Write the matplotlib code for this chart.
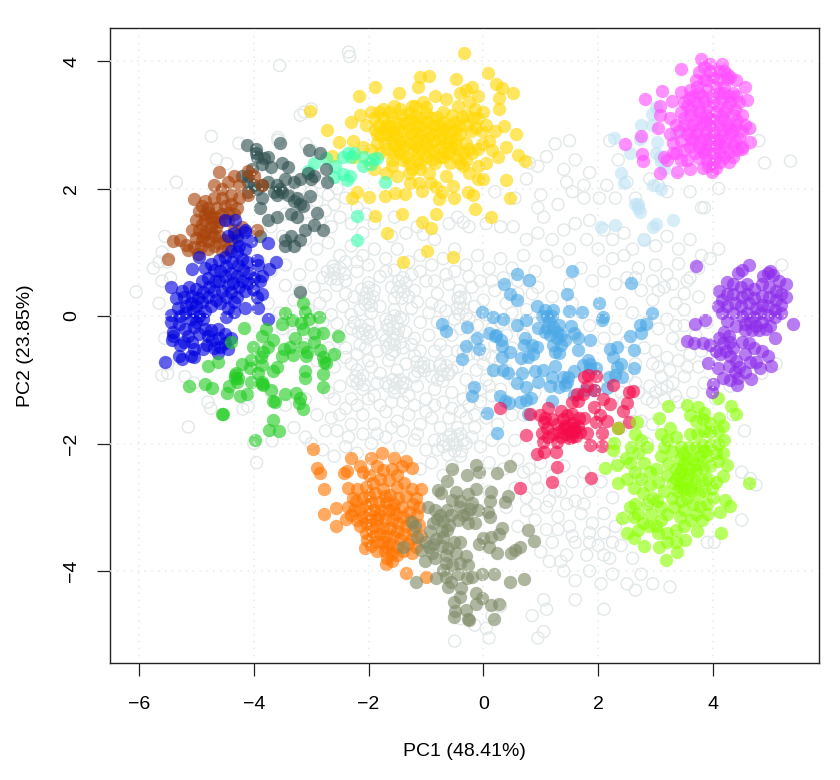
import matplotlib
matplotlib.use("Agg")
import matplotlib.pyplot as plt

plt.rcParams['font.family'] = ['Liberation Sans', 'DejaVu Sans']

grey_pts = [(-2.35,4.14),(-2.33,4.07),(-3.55,3.93),(-3.0,3.25),(-3.12,3.2),(-3.19,3.15),(-4.74,2.82),(-5.35,2.1),(-4.65,2.46),(-4.47,2.39),(-4.26,2.71),(-3.58,2.8),(-3.58,2.76),(-3.09,2.7),(-2.99,2.6),
(-6.05,.38),(-5.6,1.0),(-5.65,.85),(-5.5,.85),(-5.55,1.25),(-5.75,.75),(-5.65,.2),(-5.6,.55),(-5.45,.6),(-5.5,-.75),(-5.5,-.9),(-5.6,-.93),(-5.55,-.35),(-5.2,-.95),(-5.05,-1.05),(-5.14,-1.74),(-4.8,-1.35),(-4.75,-1.45),(-4.19,-1.46),(-4.1,-1.42),(-3.68,-1.96),(-3.95,-2.3),(-3.3,-1.75),(-3.1,-1.9),(-3.0,-2.0),(-2.8,-2.1),(-2.6,-2.2),(-2.4,-2.05),(-2.2,-2.15),
(-3.8,2.2),(-3.6,2.05),(-3.4,2.1),(-3.2,2.0),(-3.0,1.95),(-2.85,2.1),(-2.7,1.9),(-2.55,2.0),(-3.3,1.85),(-3.1,1.75),(-2.9,1.8),(-2.75,1.65),(-2.6,1.75),(-2.4,1.85),(-2.2,1.7),(-2.05,1.6),(-3.45,1.6),(-3.25,1.55),(-3.05,1.45),(-2.85,1.5),(-2.65,1.4),(-2.5,1.55),(-2.3,1.45),(-2.1,1.3),(-1.9,1.45),(-1.55,1.55),(-1.35,1.3),(-1.15,1.4),(-1.6,1.25),(-1.05,1.28),(-.85,1.2),(-.6,1.45),(-.45,1.55),(-.35,1.47),(-.25,1.4),(.05,1.45),(.3,1.4),(.52,1.4),
(-3.7,1.4),(-3.5,1.25),(-3.3,1.1),(-3.1,1.2),(-2.9,1.05),(-2.7,1.15),(-2.5,.95),(-2.3,1.1),(-2.1,.95),(-1.9,1.05),(-1.7,.9),(-1.5,1.05),(-1.3,.85),(-1.1,.95),(-.9,.8),(-.7,.9),(-.5,1.05),(-.3,.8),(-.1,.95),(.1,.75),(.3,.9),(.5,.75),(.7,.95),(.9,.7),
(-3.9,.85),(-3.7,.7),(-3.45,.8),(-3.2,.65),(-3.0,.8),(-2.8,.6),(-2.6,.72),(-2.4,.55),(-2.2,.7),(-2.0,.52),(-1.9,.4),(-1.8,.62),(-1.6,.45),(-1.4,.6),(-1.2,.4),(-1.0,.55),(-.8,.35),(-.6,.5),(-.4,.3),(-.2,.45),(0,.25),(.2,.4),(.4,.2),(.6,.35),
(-3.75,.2),(-3.55,.05),(-3.3,.25),(-3.05,.1),(-2.85,.2),(-2.65,.02),(-2.45,.15),(-2.25,.3),(-2.15,.1),(-2.0,.2),(-1.95,.05),(-1.8,.15),(-1.7,-.05),(-1.55,.1),(-1.4,-.05),(-1.25,.12),(-1.1,-.1),(-.95,.05),(-.8,-.1),(-.65,.08),(-.5,-.05),(-.4,-.2),(-.25,-.05),(-.1,-.15),(.05,.02),(.15,-.2),(-1.65,-.2),(-1.5,-.3),(-1.35,-.25),(-1.2,-.35),(-1.55,-.45),(-1.4,-.5),(-1.25,-.45),(-1.1,-.55),
(-3.3,-.3),(-3.1,-.45),(-2.9,-.3),(-2.7,-.5),(-2.5,-.35),(-2.3,-.2),(-2.15,-.45),(-1.95,-.3),(-1.85,-.55),(-.95,-.3),(-.75,-.45),(-.55,-.3),(-.35,-.55),(-.15,-.4),(.02,-.6),(.2,-.45),
(-2.6,-.8),(-2.4,-.65),(-2.2,-.85),(-2.0,-.7),(-1.8,-.9),(-1.65,-.7),(-1.5,-.85),(-1.35,-.75),(-1.2,-.95),(-1.05,-.8),(-.9,-.95),(-.75,-.75),(-.6,-.9),(-.45,-.8),(-.3,-1.0),(-.12,-.85),(.05,-1.0),(.22,-.85),
(-2.7,-1.2),(-2.5,-1.1),(-2.3,-1.3),(-2.1,-1.15),(-1.9,-1.25),(-1.7,-1.05),(-1.55,-1.2),(-1.4,-1.05),(-1.3,-1.25),(-1.15,-1.1),(-1.0,-1.3),(-.85,-1.15),(-.7,-1.35),(-.55,-1.2),(-.35,-1.3),(-.2,-1.15),(-.05,-1.35),(.15,-1.25),
(-2.5,-1.55),(-2.3,-1.7),(-2.1,-1.55),(-1.9,-1.7),(-1.7,-1.5),(-1.5,-1.65),(-1.3,-1.55),(-1.1,-1.7),(-.9,-1.6),(-.75,-1.75),(-.6,-1.6),(-.45,-1.75),(-.3,-1.6),(-.15,-1.75),(.05,-1.6),(.25,-1.7),(.5,-1.55),
(-1.95,-2.0),(-1.7,-1.9),(-1.45,-2.05),(-1.2,-1.95),(-1.0,-2.1),(-.85,-1.95),(-.7,-2.05),(-.6,-1.9),(-.5,-2.0),(-.4,-1.85),(-.3,-2.0),(-.2,-1.9),(-.05,-2.05),(.15,-1.95),(.35,-2.1),(.55,-1.95),
(-1.1,-2.4),(-.9,-2.3),(-.7,-2.5),(-.55,-2.35),(-.4,-2.2),(.1,-2.3),(.35,-2.4),(.6,-2.25),(.8,-2.4),(1.0,-2.3),(1.2,-2.5),(1.4,-2.35),(1.55,-2.6),(1.75,-2.45),(.55,-2.7),(.75,-2.85),(.95,-2.7),(1.15,-2.9),(1.35,-2.75),(1.6,-2.9),(1.85,-2.75),(2.05,-2.6),(2.25,-2.85),
(.9,-3.2),(1.1,-3.35),(1.3,-3.15),(1.5,-3.3),(1.7,-3.1),(1.9,-3.25),(2.1,-3.1),(2.3,-3.3),(2.5,-3.15),(1.0,-3.7),(1.2,-3.55),(1.45,-3.75),(1.6,-3.55),(1.8,-3.75),(2.0,-3.6),(2.2,-3.8),(2.4,-3.6),(2.6,-3.8),(1.4,-4.0),(1.6,-4.15),(1.85,-4.0),(2.05,-4.2),(2.25,-4.05),(2.5,-4.2),(2.75,-4.05),(2.95,-4.2),(3.25,-4.25),(4.5,-3.2),(3.9,-3.55),(4.02,-3.55),(2.65,-4.3),(2.1,-4.6),(1.6,-4.45),(1.05,-4.45),(1.1,-4.6),(.85,-4.7),(.3,-4.55),(.15,-4.7),(-.4,-4.75),(-.15,-4.85),(.05,-4.9),(.1,-5.05),(-.5,-5.1),(.95,-5.05),(1.05,-4.95),
(-4.0,-2.0),(-3.7,-1.2),(-3.45,-1.4),(-3.1,-1.3),(-2.9,-1.55),(-2.75,-1.8),(-.2,-3.0),(.1,-2.75),(.4,-3.0),(.75,-3.05),(.6,-3.3),(1.1,-3.0),(.9,-2.95),
(1.0,1.9),(.95,1.7),(.55,1.85),(.2,1.95),(1.05,1.55),(1.3,1.75),(1.55,1.95),(1.75,1.85),(1.45,2.1),(1.4,2.3),(1.6,2.45),(1.85,2.25),(1.75,2.05),(2.02,1.85),(2.15,2.05),(2.3,1.85),(.75,2.15),(.8,2.4),(.95,2.35),(1.1,2.5),(1.25,2.7),(1.5,2.75),(2.2,2.75),(2.35,2.45),(2.5,2.1),(2.65,1.85),(2.9,2.15),(3.05,2.05),(3.2,1.95),(3.4,2.3),(3.6,1.95),(3.8,1.7),(3.85,1.7),(4.0,2.3),(4.1,2.0),(4.65,2.95),(4.8,2.75),(4.9,2.4),
(2.1,1.35),(2.25,1.2),(2.45,1.3),(2.6,1.05),(2.8,1.2),(3.0,1.1),(3.2,1.25),(3.4,1.05),(3.6,1.2),(3.8,.95),(3.95,.9),(4.1,1.05),(1.8,1.2),(1.5,1.05),(1.3,.85),(1.1,.95),(3.0,.8),(3.2,.65),(3.4,.82),(3.55,.55),(3.75,.75),(2.5,.6),(2.7,.75),(2.3,.5),(2.1,.7),(1.9,.55),(1.7,.75),(1.5,.5),(2.75,.4),(2.95,.25),(3.15,.45),(3.35,.2),(3.5,.1),(3.75,.3),(1.2,.3),(1.55,.2),(2.4,.2),(2.6,.05),(2.85,-.1),(3.05,-.2),(3.3,-.35),(3.5,-.15),(3.7,-.3),(3.9,-.1),(3.8,-.55),(3.6,-.6),(3.4,-.7),(3.2,-.65),(3.0,-.55),(2.8,-.5),(2.65,-.75),(2.5,-.4),(2.3,-.2),(2.1,-.35),(1.85,-.15),(1.6,-.3),(3.5,-.95),(3.3,-1.05),(3.1,-.95),(2.9,-1.1),(2.7,-1.2),(2.95,-1.35),(3.15,-1.3),(3.4,-1.35),(3.65,-1.2),(3.85,-1.05),(4.05,-1.3),(4.3,-1.1),(.7,-.3),(.95,-.1),(.5,-.5),(.75,-.8),(.55,-1.0),(.9,-1.2),(.45,-1.35),(.7,-1.55),(2.15,-1.0),(2.4,-1.2),(2.55,-1.5),(2.75,-1.65),(2.4,-1.75),(2.15,-2.0),(2.35,-2.3),(2.6,-2.15),(2.85,-2.0),(2.7,-2.5),(2.9,-2.9),(4.65,-.9),(4.85,-.9),(5.1,-.75),(5.2,.8),(5.35,2.43),(4.35,-1.55),(4.55,-1.8),(4.5,-2.45),(4.65,-2.55),(4.75,-2.65)]

grey_dense_pts = [(-2.03,.36),(-2.08,.28),(-1.98,.27),(-2.12,.42),(-2.0,.45),(-1.92,.3),(-2.06,.18),(-1.95,.16),(-1.57,-.17),(-1.62,-.08),(-1.5,-.1),(-1.58,-.27),(-1.48,-.2),(-1.68,-.15),(-1.55,.0),(-1.45,-.02),(-1.63,-.43),(-1.7,-.38),(-1.57,-.38),(-1.68,-.5),(-1.55,-.55),(-1.45,-.42),(-1.75,-.3),(-1.6,-.6),(-2.06,-.22),(-2.14,-.15),(-2.0,-.14),(-2.1,-.28),(-1.98,-.25),(-2.18,-.25),(-2.03,-.35),(-2.15,-1.0),(-2.22,-.95),(-2.1,-.93),(-2.2,-1.06),(-2.08,-1.08),(-2.28,-1.02),(-1.51,-1.06),(-1.58,-1.0),(-1.45,-1.0),(-1.55,-1.13),(-1.42,-1.12),(-1.65,-1.1),(-1.35,-1.05),(-1.1,-.8),(-1.16,-.72),(-1.04,-.74),(-1.14,-.87),(-1.02,-.86),(-.95,-.78),(-1.2,-.62),(-.7,-.85),(-.76,-.78),(-.64,-.78),(-.74,-.93),(-.62,-.92),(-.55,-.85),(-.8,-1.0),(-.7,-1.02),(-1.45,.46),(-1.5,.38),(-1.38,.38),(-1.48,.55),(-1.35,.52),(-1.55,.28),(-1.42,.28),(-.41,.2),(-.46,.12),(-.35,.12),(-.44,.28),(-.32,.28),(-.42,.4),(-.3,.02),(-.42,.03),(-.53,-1.95),(-.6,-2.02),(-.46,-2.02),(-.57,-1.86),(-.45,-1.88),(-.35,-1.95),(-.7,-1.95),(-.5,-2.12),(-.38,-2.12),(-.62,-2.18),(-.8,-2.1),(-2.6,.67),(-2.66,.58),(-2.54,.58),(-2.62,.78),(-2.5,.75),(-2.72,.7),(-2.42,.66),(-2.56,.48),
(-3.45,.48),(-3.2,.4),(-2.95,.45),(-2.75,.32),(-2.4,.35),(-2.3,.02),(-2.25,-.1),(-2.55,-.12),(-2.8,-.1),(-3.0,-.1),(-3.5,-.2),(-2.4,-.5),(-2.65,-.62),(-2.9,-.7),(-2.2,-.6),(-2.3,-.75),(-2.05,-.5),(-1.95,-.8),(-1.85,-1.05),(-2.0,-1.3),(-2.2,-1.4),(-2.4,-1.45),(-2.6,-1.3),(-2.65,-1.6),(-2.55,-1.8),(-2.35,-1.9),(-2.1,-1.85),(-1.85,-1.85),(-1.6,-1.75),(-1.4,-1.8),(-1.15,-1.85),(-1.0,-1.5),(-.85,-1.4),(-1.2,-1.4),(-1.4,-1.35),(-1.6,-1.35),(-1.8,-1.4),(-.55,-1.45),(-.4,-1.5),(-.25,-1.4),(-.15,-1.55),(-.05,-1.15),(.1,-1.1),(.3,-1.15),(.0,-.75),(.3,-.7),(.4,-.3),(.55,-.15),(.3,-.1),(.5,.05),(.75,.1),(.85,.35),(.95,.45),(-.15,.15),(-.05,.55),(.15,.55),(.35,.6),(.6,.55),(.8,.55),(-.65,.65),(-.5,.7),(-.25,.62),(-.85,.55),(-1.1,.7),(-1.25,.65),(-1.55,.72),(-1.7,.7),(-2.0,.8),(-2.2,.85),(-2.4,.85),(-.75,.15),(-.9,.2),(-1.15,.22),(-1.3,.3),(-.85,-.55),(-.65,-.55),(-.45,-.55),(-.25,-.6),(-.1,-.6),(.15,-.65),(.4,-.85),
(.75,1.2),(.95,1.3),(1.2,1.2),(1.4,1.35),(1.6,1.45),(1.85,1.5),(2.0,1.05),(2.25,.9),(2.45,.95),(2.65,.6),(2.95,.55),(3.05,.4),(3.3,.5),(3.5,.35),(3.6,.6),(3.2,-.05),(3.35,-.15),(3.45,-.45),(3.25,-.85),(3.05,-.8),(2.95,-.75),(3.1,-1.15),(3.0,-1.2),(2.85,-1.3),(3.2,-1.1),(3.35,-1.25),(3.55,-.8),(3.75,-.8),(3.95,-.45),(2.5,-.95),(2.65,-1.05),(2.45,-1.35),(2.6,-1.65),(2.95,-1.7),(.7,-2.45),(.9,-2.55),(1.25,-2.75),(1.45,-2.95),(1.75,-2.95),(1.85,-3.4),(2.1,-3.4),(2.25,-3.55),(2.1,-3.75),(1.85,-3.55),(1.55,-3.45),(1.3,-3.35),(1.35,-3.85),(1.15,-3.85)]

paleblue_pts = [(2.28,2.8),(2.75,2.99),(2.93,3.0),(3.03,2.73),(3.0,2.55),(3.07,2.5),(2.72,2.78),(2.55,2.55),(3.0,3.28),(2.93,3.17),(3.35,2.87),(3.1,2.42),(3.15,2.3),(2.7,1.75),(2.4,2.25),(2.45,2.08),(2.7,1.7),(2.72,1.63),(2.8,1.2),(2.05,1.4),(2.3,1.42),(3.1,2.0),(2.95,2.05),(2.65,1.75),(2.95,1.4),(3.3,1.5),(3.0,1.45)]

yellow_pts = [(-.34,4.13),(.08,3.81),(-.48,3.72),(-1.1,3.75),(-.95,3.76),(-1.14,3.59),(.22,3.64),(.32,3.58),(.52,3.5),(-1.89,3.59),(-2.17,3.45),(-1.47,3.5),(.27,3.42),(.27,3.25),(.36,2.98),(.57,2.85),(.6,2.53),(.72,2.43),(.39,2.65),(.39,2.13),(.46,1.85),(.13,1.55),(-.15,1.68),(-.83,1.6),(-.91,1.38),(-1.07,1.47),(-1.42,1.6),(-1.89,1.57),(-1.68,1.3),(-.98,1.02),(-.53,.93),(-1.4,.85),(-2.29,1.85),(-1.99,1.87),(-2.2,1.94),(-1.71,1.88),(-1.54,1.93),(-1.37,1.91),(-.77,1.84),(-.51,1.85),(-.18,1.9),(-.27,1.94),(-.53,2.04),(-1.07,1.96),(-.72,1.94),(-1.27,2.09),(-1.12,2.08),(-.92,2.08),(-.82,2.02),(-3.02,3.22),(-2.72,2.92),(-2.52,2.73),(-2.27,2.75),(-2.64,2.51),(-.3,3.55),(-.2,3.6),(-.4,3.5),(-.1,3.45),(-.25,3.35),(-.45,3.3),(-.65,3.4),(-.85,3.45),(-1.05,3.35),(-1.25,3.3),(-1.55,3.3),(-1.75,3.25),(-1.95,3.2),(-2.15,3.15),(-2.05,3.0),(-2.3,3.05),(-1.85,2.85),(-1.7,3.0),(-.1,3.1),(.05,3.0),(.1,2.75),(.2,2.9),(.15,2.6),(.25,2.5),(.05,2.4),(-.1,2.35),(-.2,2.55),(-.4,2.4),(-.45,2.6),(-.7,2.5),(-.85,2.4),(-1.0,2.5),(-1.15,2.45),(-1.3,2.4),(-1.45,2.55),(-1.6,2.45),(-1.8,2.55),(-1.95,2.6),(-2.1,2.65),(-2.0,2.4),(-1.7,2.25),(-1.5,2.2),(-1.3,2.25),(-1.1,2.3),(-.95,2.25),(-.65,2.2),(-.25,2.25),(-.1,2.15),(.0,2.15),(-2.25,2.5),(-1.9,2.3)]

yellow_core_pts = [(-1.9,3.1),(-1.82,3.0),(-1.88,2.92),(-1.78,2.82),(-1.85,2.72),(-1.75,3.1),(-1.7,2.95),(-1.68,2.85),(-1.72,2.72),(-1.68,2.62),(-1.6,3.12),(-1.62,2.98),(-1.58,2.88),(-1.6,2.78),(-1.55,2.68),(-1.58,2.56),(-1.5,3.05),(-1.48,2.95),(-1.52,2.82),(-1.45,2.72),(-1.48,2.62),(-1.42,3.15),(-1.38,3.02),(-1.4,2.9),(-1.36,2.78),(-1.38,2.66),(-1.35,2.5),(-1.3,3.18),(-1.28,3.08),(-1.3,2.96),(-1.26,2.86),(-1.28,2.72),(-1.24,2.6),(-1.2,3.15),(-1.18,3.02),(-1.2,2.9),(-1.16,2.78),(-1.18,2.66),(-1.14,2.55),(-1.1,3.1),(-1.08,2.98),(-1.1,2.85),(-1.05,2.75),(-1.08,2.62),(-1.0,3.18),(-.98,3.05),(-1.0,2.92),(-.96,2.8),(-.98,2.68),(-.94,2.58),(-.9,3.1),(-.88,2.98),(-.9,2.86),(-.86,2.74),(-.88,2.6),(-.8,3.12),(-.78,3.0),(-.8,2.9),(-.76,2.78),(-.78,2.65),(-.75,2.5),(-.7,3.05),(-.68,2.94),(-.7,2.82),(-.66,2.7),(-.68,2.58),(-.6,3.0),(-.58,2.88),(-.6,2.76),(-.56,2.65),(-.5,3.05),(-.5,2.92),(-.48,2.8),(-.5,2.7),(-.42,2.98),(-.4,2.85),(-.38,3.12),(-.3,3.15),(-.28,3.0),(-.22,2.9),(-.18,3.1),(-.3,2.72),(-.25,2.62),(-.35,2.55),(-.48,2.5),(-.12,2.95),(-.02,2.7),(-.1,2.62),(-.15,3.25),(-.02,2.9),(.0,3.2),(-.6,2.55),(-.55,3.15),(-1.0,3.28),(-.7,3.2),(-1.45,3.25),(-1.2,3.3),(-1.65,3.2),(-1.82,3.2),(-.58,2.4),(-.9,2.45),(-1.1,2.4),(-.3,2.45),(-.35,2.35),(-1.4,2.45),(-1.6,2.35),(-1.25,2.3)]

springgreen_pts = [(-3.05,2.27),(-2.95,2.4),(-2.75,2.48),(-2.58,2.35),(-2.45,2.5),(-2.35,2.55),(-2.3,2.5),(-2.25,2.55),(-2.1,2.35),(-2.08,2.5),(-1.95,2.38),(-2.6,2.18),(-2.45,2.22),(-2.38,2.13),(-2.33,2.2),(-1.92,2.47),(-1.85,2.48),(-2.2,1.57),(-2.2,1.2),(-1.72,2.1)]

dark_pts = [(-3.97,2.62),(-3.97,2.55),(-4.12,2.68),(-4.03,2.3),(-3.95,2.5),(-3.85,2.38),(-3.82,2.48),(-3.75,2.5),(-3.7,2.33),(-3.6,2.05),(-3.5,2.4),(-3.4,2.33),(-3.3,2.1),(-3.2,2.15),(-2.95,2.2),(-2.85,2.55),(-3.55,2.72),(-3.03,2.6),(-3.05,2.25),(-3.0,2.15),(-2.75,2.3),(-2.72,2.1),(-4.2,2.2),(-4.1,2.2),(-4.0,2.05),(-3.95,2.0),(-3.85,2.05),(-3.75,2.1),(-3.65,1.95),(-3.6,1.9),(-3.55,2.0),(-3.5,1.95),(-3.4,1.9),(-3.45,2.15),(-3.3,1.8),(-3.25,1.85),(-3.2,1.75),(-3.15,1.72),(-3.35,1.6),(-3.25,1.55),(-3.02,1.88),(-2.9,1.62),(-3.6,1.55),(-3.75,1.5),(-3.9,1.7),(-3.1,1.35),(-2.8,1.35),(-2.95,1.42),(-3.35,1.25),(-3.45,1.2),(-3.2,1.2),(-3.3,1.1),(-3.45,1.1),(-3.9,1.25),(-3.2,.38),(-3.85,1.85),(-4.1,1.95),(-4.3,1.25),(-4.1,2.1)]

brown_pts = [(-4.6,2.26),(-4.7,2.06),(-4.55,2.0),(-4.45,2.1),(-4.35,2.2),(-4.25,2.05),(-4.1,2.27),(-4.0,2.2),(-3.85,2.05),(-4.1,1.9),(-4.25,1.85),(-4.4,1.9),(-4.55,1.85),(-4.7,1.85),(-5.04,1.84),(-4.85,1.8),(-4.4,1.75),(-4.3,1.7),(-4.5,1.72),(-4.65,1.7),(-4.8,1.7),(-4.95,1.65),(-4.85,1.6),(-5.0,1.5),(-4.9,1.45),(-4.75,1.55),(-4.65,1.55),(-4.55,1.6),(-4.45,1.62),(-4.35,1.6),(-5.08,1.35),(-4.95,1.35),(-4.85,1.32),(-4.75,1.4),(-4.65,1.4),(-5.0,1.22),(-4.9,1.2),(-4.8,1.18),(-4.7,1.25),(-4.6,1.25),(-4.92,1.08),(-4.8,1.05),(-4.7,1.1),(-4.6,1.15),(-4.5,1.2),(-5.4,1.17),(-5.28,1.19),(-5.18,1.12),(-5.14,1.04),(-5.05,1.08),(-4.98,.98),(-5.5,.89),(-4.85,1.5),(-4.78,1.62),(-4.9,1.72),(-4.7,1.48),(-4.88,1.25),(-4.75,1.3),(-4.6,1.48),(-4.45,1.5),(-4.4,1.2),(-4.55,1.02),(-4.45,1.05),(-3.95,1.35),(-4.2,1.4),(-4.35,1.35)]

blue_pts = [(-5.54,-.72),(-5.44,.45),(-5.3,-.63),(-5.25,-.68),(-5.05,-.65),(-5.1,-.62),(-4.15,.12),(-3.92,.12),(-3.76,-.05),(-3.62,.85),(-3.73,.74),(-3.92,.8),(-3.75,1.15),(-4.04,1.17),(-4.15,1.32),(-4.27,1.19),(-4.95,.93),(-5.08,.73),(-4.35,.07),(-4.62,-.58),(-4.5,1.5),(-4.32,1.5),(-4.15,1.35),(-5.45,.02),(-5.4,-.25),(-5.45,-.1),(-5.4,-.32),
(-5.35,.28),(-5.25,.4),(-5.32,.12),(-5.28,.0),(-5.3,-.12),(-5.22,.3),(-5.18,.15),(-5.2,.05),(-5.2,-.2),(-5.15,-.32),(-5.12,.45),(-5.08,.32),(-5.1,.2),(-5.06,.08),(-5.1,-.05),(-5.05,-.18),(-5.08,-.4),(-5.0,.42),(-4.98,.28),(-5.0,.15),(-4.96,.0),(-5.0,-.1),(-4.95,-.28),(-4.9,.55),(-4.88,.38),(-4.9,.22),(-4.85,.08),(-4.88,-.05),(-4.8,.6),(-4.78,.45),(-4.8,.3),(-4.75,.15),(-4.7,.72),(-4.68,.55),(-4.7,.4),(-4.65,.25),(-4.6,.88),(-4.58,.7),(-4.6,.55),(-4.55,.4),(-4.58,.2),(-4.5,.92),(-4.48,.78),(-4.5,.62),(-4.45,.48),(-4.48,.3),(-4.45,.12),(-4.48,-.02),(-4.4,1.02),(-4.38,.85),(-4.4,.68),(-4.36,.52),(-4.4,.38),(-4.35,.22),(-4.3,1.0),(-4.28,.8),(-4.3,.62),(-4.26,.45),(-4.3,.3),(-4.2,.9),(-4.18,.72),(-4.2,.55),(-4.15,.4),(-4.12,.85),(-4.08,.68),(-4.1,.52),(-4.0,.6),(-4.02,.42),(-3.95,.3),
(-4.85,-.2),(-4.8,-.32),(-4.82,-.45),(-4.75,-.22),(-4.72,-.38),(-4.7,-.5),(-4.62,-.2),(-4.6,-.35),(-4.58,-.48),(-4.5,-.28),(-4.5,-.42),(-4.45,-.52),(-4.4,-.35),(-4.88,-.52),(-4.45,1.25),(-4.35,1.3),(-3.95,.88),(-3.85,.35),(-3.9,.55),(-3.85,.62),(-4.25,1.1),(-4.15,1.05),(-4.75,.82),(-4.85,.75),(-5.22,-.4),(-5.28,-.45),(-5.05,-.52),(-5.42,-.38)]

green_pts = [(-3.14,.2),(-3.46,.05),(-3.11,.07),(-3.03,-.05),(-2.86,-.01),(-3.33,-.06),(-3.17,-.11),(-3.5,-.13),(-3.14,-.21),(-4.17,-.19),(-3.78,-.2),(-3.85,-.31),(-3.67,-.38),(-3.29,-.34),(-2.95,-.27),(-2.79,-.27),(-2.53,-.31),(-2.95,-.4),(-4.39,-.4),(-4.01,-.48),(-3.75,-.48),(-3.37,-.48),(-3.14,-.49),(-3.47,-.52),(-3.51,-.63),(-3.31,-.61),(-3.08,-.56),(-3.09,-.63),(-2.85,-.53),(-2.61,-.6),(-2.79,-.64),(-2.74,-.74),(-3.84,-.57),(-3.88,-.64),(-4.04,-.69),(-4.21,-.76),(-3.86,-.77),(-4.07,-.82),(-3.93,-.89),(-4.31,-.9),(-4.33,-.98),(-4.3,-1.03),(-4.43,-1.1),(-4.47,-1.2),(-4.63,-.72),(-4.79,-.79),(-5.13,-1.09),(-4.85,-1.07),(-4.72,-1.13),(-4.24,-1.25),(-4.12,-1.23),(-4.04,-1.04),(-3.86,-1.06),(-3.84,-1.08),(-3.7,-1.16),(-3.66,-.87),(-3.6,-.8),(-3.67,-1.34),(-3.63,-1.35),(-3.46,-1.23),(-3.27,-1.21),(-3.2,-1.29),(-3.21,-1.37),(-3.15,-1.46),(-3.1,-.87),(-3.11,-.97),(-2.79,-.91),(-2.8,-1.11),(-4.56,-1.53),(-4.54,-1.53),(-3.66,-1.63),(-3.73,-1.79),(-3.56,-1.81),(-3.98,-1.94),(-2.77,-.72),(-4.33,-.93),(-3.85,-1.03),(-4.27,-.97)]

orange_pts = [(-2.97,-2.09),(-2.89,-2.38),(-2.85,-2.47),(-2.78,-2.71),(-2.43,-2.47),(-2.3,-2.23),(-1.76,-2.15),(-1.95,-2.23),(-1.55,-2.22),(-1.35,-2.28),(-1.25,-2.38),(-2.78,-3.1),(-2.57,-3.29),(-2.4,-3.18),(-2.57,-3.01),(-2.35,-3.0),(-2.06,-3.64),(-1.7,-3.89),(-1.34,-4.03),(-1.0,-4.1),(-1.08,-2.71),(-2.35,-2.7),(-2.38,-2.43),(-2.15,-2.35),(-2.1,-2.45),(-2.0,-2.5),(-1.85,-2.35),(-1.75,-2.42),(-1.6,-2.4),(-1.5,-2.5),(-1.42,-2.35),(-2.2,-2.72),(-2.05,-2.68),(-1.92,-2.62),(-1.8,-2.55),(-1.65,-2.58),(-1.5,-2.68),(-1.38,-2.62),(-1.25,-2.72),(-1.18,-2.85),(-2.22,-2.9),(-2.1,-2.85),(-2.0,-2.8),(-1.88,-2.78),(-1.75,-2.72),(-1.62,-2.8),(-1.48,-2.85),(-1.35,-2.82),(-1.22,-2.95),(-1.12,-3.0),(-2.25,-3.05),(-2.15,-3.02),(-2.05,-2.98),(-1.95,-2.92),(-1.82,-2.92),(-1.7,-2.92),(-1.55,-2.95),(-1.42,-3.0),(-1.3,-3.08),(-1.15,-3.12),(-2.2,-3.2),(-2.1,-3.15),(-2.0,-3.1),(-1.9,-3.05),(-1.78,-3.05),(-1.65,-3.05),(-1.52,-3.1),(-1.4,-3.15),(-1.28,-3.22),(-1.12,-3.28),(-2.15,-3.3),(-2.05,-3.25),(-1.95,-3.2),(-1.85,-3.18),(-1.72,-3.18),(-1.6,-3.2),(-1.48,-3.25),(-1.35,-3.3),(-1.22,-3.35),(-2.05,-3.4),(-1.95,-3.33),(-1.85,-3.3),(-1.75,-3.32),(-1.62,-3.32),(-1.5,-3.38),(-1.38,-3.42),(-1.25,-3.5),(-2.02,-3.52),(-1.92,-3.45),(-1.8,-3.42),(-1.7,-3.45),(-1.58,-3.45),(-1.45,-3.5),(-1.32,-3.58),(-1.18,-3.62),(-1.95,-3.6),(-1.85,-3.55),(-1.75,-3.55),(-1.62,-3.58),(-1.5,-3.62),(-1.4,-3.68),(-1.85,-3.68),(-1.72,-3.68),(-1.6,-3.72),(-1.5,-3.75),(-1.68,-3.8),(-1.6,-3.85),(-1.25,-3.72),(-1.08,-3.45),(-2.28,-2.85),(-2.3,-3.12),(-1.68,-3.62),(-1.82,-3.12),(-1.58,-3.02),(-1.72,-2.82)]

olive_pts = [(-.54,-2.4),(-.13,-2.33),(-.29,-2.5),(-.08,-2.44),(.23,-2.47),(.46,-2.35),(-.63,-2.59),(-.79,-2.73),(-.48,-2.76),(-.73,-2.78),(-.27,-2.79),(-.12,-2.72),(.14,-2.76),(.11,-2.9),(.43,-2.82),(.38,-2.91),(-.55,-2.88),(-.19,-2.94),(-.41,-3.0),(-.23,-3.02),(-.64,-3.04),(-.57,-3.12),(-.29,-3.1),(-.96,-2.99),(-.84,-3.04),(.08,-3.07),(.11,-3.16),(-.44,-3.2),(-.15,-3.24),(-.27,-3.25),(-.81,-3.19),(-1.19,-3.3),(-1.25,-3.23),(.33,-3.32),(.77,-3.35),(.89,-3.53),(.27,-3.42),(.14,-3.47),(0,-3.48),(-.08,-3.58),(.09,-3.63),(.24,-3.71),(.48,-3.72),(.55,-3.67),(.63,-3.62),(-.64,-3.36),(-.7,-3.46),(-.41,-3.54),(-.93,-3.38),(-1.16,-3.46),(-1.02,-3.54),(-.87,-3.57),(-1.4,-3.63),(-1.08,-3.67),(-.61,-3.64),(-.47,-3.72),(-.31,-3.76),(-1.02,-3.85),(-.84,-3.79),(-.66,-3.88),(-.41,-3.87),(-.26,-3.91),(-.7,-3.98),(-.83,-4.11),(-1.17,-4.18),(-.61,-4.25),(-.57,-4.17),(-.44,-4.05),(-.29,-4.11),(-.2,-4.1),(-.03,-4.05),(.18,-4.04),(.46,-4.18),(.7,-4.12),(-.39,-4.26),(-.4,-4.41),(-.12,-4.35),(-.03,-4.42),(-.12,-4.51),(-.52,-4.48),(.13,-4.53),(.27,-4.51),(-.5,-4.63),(-.31,-4.61),(-.51,-4.72),(-.27,-4.75),(-.25,-4.77),(.18,-4.76),(-.75,-3.12),(-.88,-3.25),(-.7,-3.22),(-.6,-3.28),(-.72,-3.38),(-.82,-3.5),(-.95,-3.62),(-.72,-3.6),(-.52,-3.55),(-.9,-3.72),(-.66,-3.75),(-.55,-3.9),(-.65,-4.1),(-.1,-3.05),(-.4,-2.9),(-.36,-3.12)]

sky_pts = [(.58,.66),(1.55,.7),(.36,.51),(.79,.56),(2.58,.52),(.46,.34),(1.45,.34),(.59,.25),(2.02,.21),(.93,.16),(-.03,.07),(.16,-.02),(.35,-.05),(-.72,-.13),(-.66,-.23),(-.29,-.17),(.58,-.14),(.75,-.06),(1.02,0),(1.1,0),(1.19,0),(1.22,.1),(1.07,.09),(1.5,.08),(1.72,.07),(2.08,-.02),(2.06,-.07),(2.93,.05),(2.84,-.12),(2.72,-.14),(2.74,-.26),(2.55,-.31),(1.1,-.19),(.96,-.19),(1.31,-.14),(1.52,-.16),(1.57,-.26),(1.65,-.35),(1.86,-.38),(1.16,-.3),(1.28,-.35),(1.42,-.38),(1.36,-.45),(1.22,-.45),(1.07,-.25),(1.25,-.56),(1.31,-.58),(1.65,-.53),(2.21,-.52),(2.32,-.48),(2.62,-.54),(-.11,-.35),(.09,-.27),(.21,-.31),(-.3,-.47),(-.07,-.51),(.33,-.47),(.46,-.56),(.32,-.64),(-.38,-.68),(.72,-.35),(.7,-.46),(.94,-.49),(.87,-.59),(.78,-.64),(.65,-.66),(.17,-.84),(.34,-.85),(.43,-.9),(.67,-.89),(.9,-.86),(1.04,-.85),(1.25,-.78),(1.19,-.95),(.96,-1.03),(.58,-1.05),(.75,-1.12),(1.16,-1.1),(1.31,-1.11),(1.42,-1.08),(1.46,-1.03),(1.57,-.87),(1.83,-.69),(1.74,-.77),(1.97,-.82),(1.85,-.82),(2.32,-.8),(2.62,-.82),(2.18,-.95),(2.29,-.93),(2.41,-.95),(2.15,-1.13),(-.17,-1.11),(-.2,-1.26),(.29,-1.26),(.44,-1.37),(.38,-1.34),(.63,-1.35),(.75,-1.32),(.83,-1.29),(1.19,-1.34),(.07,-1.52),(.78,-1.53),(.24,-1.83),(1.57,-1.24),(1.77,-1.16),(1.92,-1.16),(1.22,-.18),(1.15,-.08),(1.28,-.25),(1.35,-.3),(1.48,-.95),(1.38,-.95),(1.85,-.75),(.3,-.38),(.22,-.3),(.85,-.45),(2.25,-.65),(2.4,-.75)]

red_pts = [(.29,-1.45),(.82,-1.54),(.75,-1.86),(.98,-1.56),(1.13,-1.45),(1.36,-1.49),(1.75,-.95),(1.82,-.92),(1.96,-.94),(2.26,-1.08),(2.54,-1.19),(2.61,-1.18),(2.09,-1.3),(1.63,-1.22),(1.74,-1.23),(1.92,-1.16),(2.21,-1.38),(2.5,-1.37),(2.43,-1.49),(1.93,-1.42),(2.03,-1.55),(1.96,-1.67),(2.15,-1.65),(2.53,-1.66),(2.35,-1.75),(2.07,-1.83),(1.81,-1.83),(1.85,-2.02),(2.07,-2.04),(1.27,-2.14),(1.28,-2.37),(1.2,-2.61),(1.87,-2.54),(.64,-2.7),(1.06,-2.14),(.94,-2.17),(1.03,-1.97),(1.02,-1.84),(1.29,-1.97),(1.65,-1.33),(1.55,-1.35),(1.8,-1.1),(1.06,-1.66),(1.1,-1.75),(1.2,-1.62),(1.28,-1.7),(1.38,-1.62),(1.45,-1.55),(1.55,-1.53),(1.66,-1.6),(1.75,-1.6),(1.22,-1.85),(1.32,-1.82),(1.4,-1.75),(1.48,-1.72),(1.56,-1.68),(1.65,-1.72),(1.35,-1.9),(1.44,-1.85),(1.52,-1.82),(1.6,-1.8),(1.68,-1.82),(1.55,-1.9),(1.62,-1.88),(1.5,-1.92),(1.42,-1.72),(1.58,-1.76),(1.12,-1.9),(1.08,-1.6)]

lime_pts = [(4.08,-1.29),(3.22,-1.41),(3.74,-1.42),(4.32,-1.41),(4.4,-1.54),(3.06,-1.6),(2.67,-1.66),(2.35,-1.76),(2.28,-1.99),(2.26,-2.1),(2.57,-2.06),(2.12,-2.38),(2.33,-2.34),(2.35,-2.62),(2.48,-2.23),(4.63,-2.62),(2.41,-3.17),(2.51,-3.41),(2.63,-3.49),(2.8,-3.6),(3.06,-3.63),(3.37,-3.7),(3.18,-3.83),(3.51,-3.51),(4.14,-3.4),(3.72,-3.38),(4.3,-2.98),(4.21,-2.89),(4.12,-3.07),(4.17,-2.51),(4.24,-2.34),
(2.65,-1.85),(2.75,-1.95),(2.55,-2.3),(2.7,-2.15),(2.85,-2.05),(2.8,-2.3),(2.65,-2.45),(2.5,-2.55),(2.75,-2.55),(2.9,-2.45),(2.62,-2.7),(2.78,-2.78),(2.9,-2.65),(2.65,-2.95),(2.55,-3.0),(2.7,-3.1),(2.85,-2.95),(2.95,-2.85),(2.62,-3.15),(2.78,-3.25),(2.92,-3.1),(2.7,-3.35),(2.88,-3.3),(3.0,-3.3),(3.1,-3.2),(3.2,-3.1),(3.05,-3.4),(3.2,-3.4),(3.35,-3.35),(3.5,-3.3),(3.1,-3.0),(3.02,-2.9),(3.15,-2.75),(3.05,-2.6),(3.0,-2.4),(3.1,-2.2),(3.15,-2.05),(3.1,-1.85),(3.25,-1.75),(3.2,-1.95),(3.28,-2.12),(3.22,-2.3),(3.2,-2.5),(3.3,-2.62),(3.28,-2.85),(3.32,-3.0),(3.42,-3.15),(3.5,-3.05),(3.62,-3.2),(3.7,-3.1),(3.8,-3.2),(3.92,-3.1),(3.45,-2.9),(3.55,-2.85),(3.65,-2.95),(3.78,-2.98),(3.9,-2.95),(4.0,-2.85),(3.38,-2.75),(3.5,-2.72),(3.62,-2.75),(3.75,-2.78),(3.85,-2.75),(3.98,-2.7),(4.05,-2.6),(3.35,-2.55),(3.45,-2.6),(3.55,-2.55),(3.68,-2.6),(3.8,-2.58),(3.92,-2.55),(3.35,-2.4),(3.45,-2.42),(3.58,-2.4),(3.7,-2.42),(3.82,-2.38),(3.95,-2.35),(3.42,-2.25),(3.55,-2.22),(3.65,-2.25),(3.78,-2.2),(3.9,-2.2),(4.05,-2.15),(4.18,-2.15),(3.45,-2.05),(3.58,-2.05),(3.7,-2.05),(3.82,-2.02),(3.95,-2.02),(4.08,-2.0),(4.2,-1.95),(3.6,-1.85),(3.72,-1.85),(3.85,-1.8),(3.95,-1.82),(4.08,-1.8),(4.18,-1.72),(3.7,-1.65),(3.82,-1.62),(3.95,-1.68),(4.1,-1.6),(3.35,-1.9),(3.6,-1.55),(3.55,-1.4),(3.85,-1.52),(3.2,-3.55),(3.35,-3.55),(3.4,-2.48),(3.6,-2.48),(3.5,-2.32),(3.72,-2.32),(3.85,-2.12),(3.62,-2.68),(3.42,-2.68),(4.08,-2.28),(3.48,-2.15)]

purple_pts = [(3.71,.78),(5.4,-.13),(4.62,.8),(4.44,.67),(4.24,.54),(5.05,.64),(5.28,.51),(5.28,.3),(3.86,-.07),(3.69,-.13),(3.54,-.39),(3.67,-.42),(3.83,-.42),(3.92,-.74),(4.09,-.81),(4,-1.06),(3.99,-1.19),(4.18,-.98),(4.44,-.98),(4.66,-.99),(4.82,-.81),(5.01,-.78),(5.08,-.34),(4.5,.72),(4.88,.62),(4.95,.68),(5.0,.7),(5.15,.55),
(4.1,.4),(4.15,.25),(4.08,.15),(4.15,.05),(4.25,.35),(4.25,.15),(4.25,-.08),(4.35,.5),(4.35,.35),(4.38,.2),(4.35,.05),(4.4,-.15),(4.48,.45),(4.5,.3),(4.48,.15),(4.5,.0),(4.55,-.12),(4.6,.5),(4.6,.35),(4.62,.2),(4.6,.05),(4.65,-.1),(4.72,.42),(4.72,.28),(4.75,.12),(4.72,-.02),(4.75,-.15),(4.85,.5),(4.85,.32),(4.85,.18),(4.82,.05),(4.85,-.1),(4.98,.45),(4.98,.3),(4.95,.15),(4.95,.02),(4.92,-.2),(5.1,.4),(5.1,.25),(5.08,.1),(5.08,-.02),(5.18,.35),(5.18,.18),(5.18,.05),(5.0,-.15),(4.8,-.22),(4.68,-.22),(4.55,-.22),
(3.95,-.45),(4.1,-.35),(4.05,-.55),(4.18,-.42),(4.12,-.6),(4.22,-.55),(4.28,-.32),(4.3,-.62),(4.35,-.5),(4.4,-.7),(4.28,-.78),(4.38,-.88),(4.45,-.8),(4.5,-.4),(4.55,-.6),(4.55,-.88),(4.62,-.42),(4.72,-.5),(4.75,-.72),(4.85,-.55),(4.95,-.62),(4.3,-1.0),(4.42,-1.08),(4.3,-.4),(4.65,-.72),(4.2,-.25)]

magenta_pts = [(3.79,4.03),(3.44,3.88),(4.16,3.95),(3.11,3.53),(3.44,3.51),(2.82,3.4),(4.56,3.59),(4.59,3.39),(2.47,2.7),(2.76,2.54),(2.78,2.43),(3.08,2.24),(3.37,2.26),(3.6,2.31),(3.98,2.26),(4.05,2.32),(3.83,2.32),(4.64,2.73),(4.62,2.95),(4.51,2.62),(3.04,2.95),(3.29,3.37),(3.08,3.29),(2.75,2.82),(3.08,3.15),(3.25,3.1),(3.15,2.5),(3.35,2.55),(3.25,2.85),(3.45,2.75),(3.35,3.0),(3.3,2.55),(3.2,2.45),(3.85,3.9),(3.95,3.95),(4.1,3.85),(4.25,3.8),(4.4,3.7),(4.3,3.75),(3.85,3.7),(4.0,3.75),(3.7,3.7),(3.6,3.55),(3.75,3.5),(3.9,3.55),(4.05,3.6),(4.2,3.6),(4.35,3.5),(4.45,3.35),(4.3,3.35),(4.15,3.4),(4.0,3.35),(3.85,3.35),(3.7,3.35),(3.55,3.3),(3.45,3.2),(3.6,3.15),(3.75,3.2),(3.9,3.15),(4.05,3.2),(4.2,3.2),(4.35,3.15),(4.5,3.15),(4.55,3.0),(4.4,3.0),(4.25,3.0),(4.1,3.0),(3.95,2.98),(3.8,3.0),(3.65,3.0),(3.5,3.0),(3.4,2.9),(3.55,2.85),(3.7,2.85),(3.85,2.8),(4.0,2.82),(4.15,2.82),(4.3,2.85),(4.45,2.8),(4.5,2.65),(4.35,2.68),(4.2,2.65),(4.05,2.65),(3.9,2.62),(3.75,2.65),(3.6,2.65),(3.75,2.48),(3.9,2.45),(4.05,2.48),(4.2,2.5),(4.35,2.5),(4.0,2.4),(3.85,2.55),(3.55,2.45),(3.45,2.45),(3.3,2.72),(3.5,3.35),(4.25,3.72),(3.95,3.85),(4.1,3.5),(3.8,3.45),(3.65,3.45),(3.5,2.6),(4.28,3.45),(3.65,2.75),(3.95,3.1),(4.15,3.12),(3.8,3.1),(4.3,2.95),(3.95,2.72),(4.1,2.72),(3.9,3.7),(4.08,3.72),(4.18,3.5),(3.98,3.45),(3.72,3.6),(3.58,3.42),(4.4,3.45),(4.38,3.25),(4.25,3.28),(4.08,3.3),(3.92,3.28),(3.75,3.28),(3.62,3.25),(3.5,3.1),(3.7,3.08),(3.88,3.05),(4.02,3.08),(4.2,3.08),(4.42,3.08),(4.5,2.9),(4.35,2.9),(4.18,2.92),(4.02,2.9),(3.88,2.9),(3.72,2.92),(3.58,2.92),(3.62,2.78),(3.78,2.75),(3.92,2.78),(4.08,2.78),(4.22,2.75),(4.38,2.75),(4.42,2.6),(4.28,2.58),(4.12,2.58),(3.98,2.55),(3.82,2.6),(3.68,2.55),(4.12,2.42),(4.28,2.42),(3.92,2.35),(4.2,3.85),(3.75,3.82)]

layers = [(paleblue_pts, '#BFE3F5'), (yellow_pts + yellow_core_pts, '#FFD700'), (springgreen_pts, '#3CFFAF'),
          (dark_pts, '#2F4F4F'), (brown_pts, '#A8420A'), (blue_pts, '#0000E0'),
          (green_pts, '#22CC22'), (orange_pts, '#FF7400'), (olive_pts, '#7F8A66'),
          (sky_pts, '#4AA8E6'), (red_pts, '#F50A4A'), (lime_pts, '#8CFF00'),
          (purple_pts, '#8B2BEA'), (magenta_pts, '#FF4DFF')]

x_ticks = [-6, -4, -2, 0, 2, 4]
y_ticks = [-4, -2, 0, 2, 4]

fig = plt.figure(figsize=(8.4, 7.8), dpi=100)
ax = fig.add_axes([110/840, 1-663/780, 709/840, 635/780])
ax.set_xlim(-6.505, 5.847)
ax.set_ylim(-5.443, 4.518)

all_grey = grey_pts + grey_dense_pts
ax.scatter([p[0] for p in all_grey], [p[1] for p in all_grey], s=75, facecolors='none',
           edgecolors='#E2E8E8', linewidths=1.0, zorder=2)
for pts, col in layers:
    ax.scatter([p[0] for p in pts], [p[1] for p in pts], s=92, c=col, alpha=0.62,
               linewidths=0, zorder=3)

for t in x_ticks:
    ax.axvline(t, color='#E8EAEA', ls=(0, (1, 3.5)), lw=1.1, zorder=4)
for t in y_ticks:
    ax.axhline(t, color='#E8EAEA', ls=(0, (1, 3.5)), lw=1.1, zorder=4)

ax.set_xticks(x_ticks)
ax.set_yticks(y_ticks)
ax.set_xticklabels(['\u2212' + str(-t) if t < 0 else str(t) for t in x_ticks])
ax.set_yticklabels(['\u2212' + str(-t) if t < 0 else str(t) for t in y_ticks], rotation=90, va='center')
ax.tick_params(axis='x', length=9.5, width=0.9, color='#222222', labelsize=14, pad=14)
ax.tick_params(axis='y', length=9.5, width=0.9, color='#222222', labelsize=14, pad=12)
for s in ax.spines.values():
    s.set_linewidth(1.0)
    s.set_color('#222222')

fig.text(464/840, 1-752/780, 'PC1 (48.41%)', ha='center', va='center', fontsize=14)
fig.text(25/840, 1-346/780, 'PC2 (23.85%)', ha='center', va='center', rotation=90, fontsize=14)

fig.savefig('out.png', dpi=100)
